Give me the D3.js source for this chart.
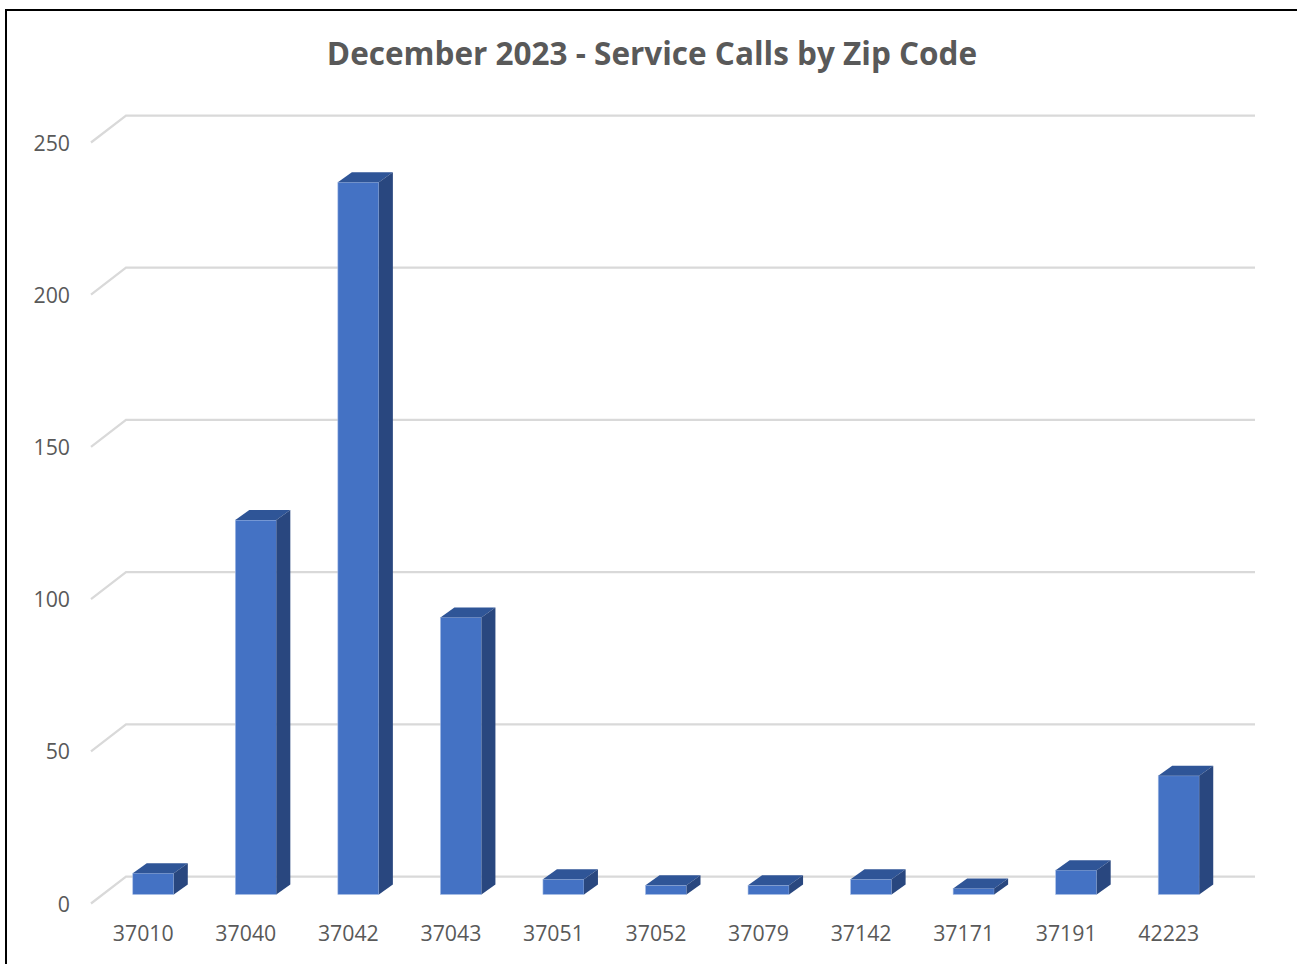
<!DOCTYPE html>
<html><head><meta charset="utf-8">
<script src="https://cdn.jsdelivr.net/npm/d3@7"></script>
<style>html,body{margin:0;padding:0;background:#fff;overflow:hidden}svg{display:block}text{font-family:"Open Sans","Noto Sans",sans-serif}</style>
</head><body><svg id="c" width="1297" height="964"></svg>
<script>
const chartTitle = "December 2023 - Service Calls by Zip Code";
const zipCodes = ["37010","37040","37042","37043","37051","37052","37079","37142","37171","37191","42223"];
const serviceCalls = [7,123,234,91,5,3,3,5,2,8,39];
const yTicks = [0,50,100,150,200,250];

const svg = d3.select("#c");
// border of the screenshot
svg.append("path").attr("d","M6,964V10H1297").attr("fill","none").attr("stroke","#000").attr("stroke-width",2);
svg.append("text").attr("x",652).attr("y",65).attr("text-anchor","middle")
  .attr("font-size",31.5).attr("font-weight",700).attr("fill","#595959").text(chartTitle);

const y = d3.scaleLinear().domain([0,250]).range([876.5,115.5]);
const x = d3.scaleBand().domain(zipCodes).range([101.5,1229.5]).paddingInner(0.6).paddingOuter(0.3);
const wallX0 = 126, wallX1 = 1255, floorDx = -35, floorDy = 27;

const g = svg.append("g");
g.selectAll("path.grid").data(yTicks).join("path").attr("class","grid")
  .attr("d",t=>`M${wallX0+floorDx},${y(t)+floorDy}L${wallX0},${y(t)}H${wallX1}`)
  .attr("fill","none").attr("stroke","#d9d9d9").attr("stroke-width",2.25);

g.selectAll("text.yl").data(yTicks).join("text").attr("class","yl")
  .attr("x",70).attr("y",t=>y(t)+floorDy+8).attr("text-anchor","end")
  .attr("font-size",21.3).attr("fill","#595959").text(t=>t);

const frontDy = 18, depthX = 14, depthY = 10;
const bars = g.selectAll("g.bar").data(zipCodes.map((z,i)=>({z,v:serviceCalls[i]}))).join("g").attr("class","bar");
const bx = d=>x(d.z)+0.5, bw = x.bandwidth(), by = d=>y(d.v)+frontDy, b0 = y(0)+frontDy;
bars.append("rect").attr("x",bx).attr("y",by).attr("width",bw).attr("height",d=>b0-by(d))
  .attr("fill","#4472c4").attr("stroke","#a9bfe6").attr("stroke-width",0.6);
bars.append("path").attr("fill","#2f5597")
  .attr("d",d=>`M${bx(d)},${by(d)}l${depthX},${-depthY}h${bw}l${-depthX},${depthY}Z`);
bars.append("path").attr("fill","#29477f")
  .attr("d",d=>`M${bx(d)+bw},${by(d)}l${depthX},${-depthY}V${b0-depthY}l${-depthX},${depthY}Z`);

g.selectAll("text.xl").data(zipCodes).join("text").attr("class","xl")
  .attr("x",z=>x(z)+bw/2-9.5).attr("y",940.5).attr("text-anchor","middle")
  .attr("font-size",21.3).attr("fill","#595959").text(z=>z);
</script></body></html>
